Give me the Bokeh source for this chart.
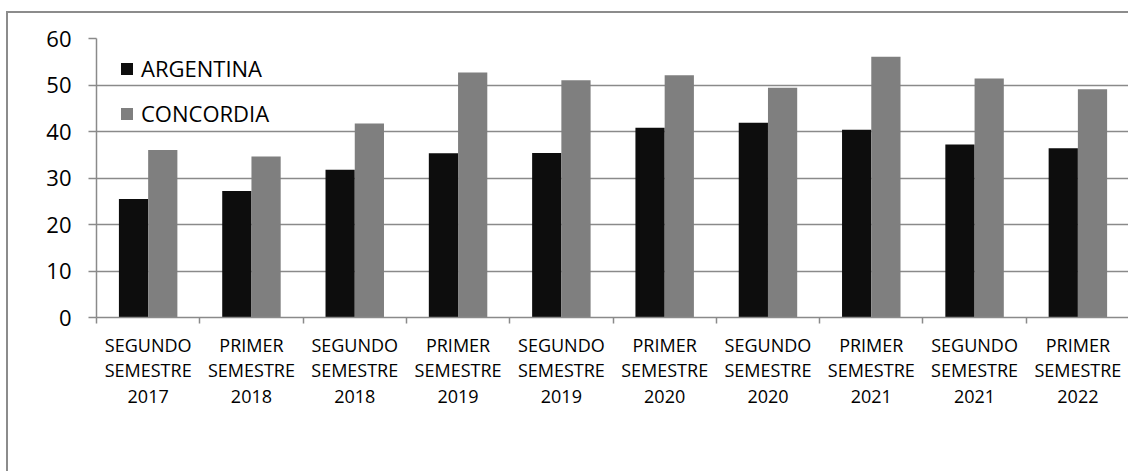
from bokeh.plotting import figure
from bokeh.models import (FixedTicker, Legend, LegendItem, Range1d, ColumnDataSource)
from bokeh.embed import file_html
from bokeh.resources import INLINE

# ---- data ----
categories = [
    "SEGUNDO\nSEMESTRE\n2017",
    "PRIMER\nSEMESTRE\n2018",
    "SEGUNDO\nSEMESTRE\n2018",
    "PRIMER\nSEMESTRE\n2019",
    "SEGUNDO\nSEMESTRE\n2019",
    "PRIMER\nSEMESTRE\n2020",
    "SEGUNDO\nSEMESTRE\n2020",
    "PRIMER\nSEMESTRE\n2021",
    "SEGUNDO\nSEMESTRE\n2021",
    "PRIMER\nSEMESTRE\n2022",
]
argentina = [25.5, 27.2, 31.8, 35.3, 35.4, 40.8, 41.9, 40.4, 37.2, 36.4]
concordia = [36.0, 34.6, 41.7, 52.7, 51.0, 52.1, 49.4, 56.1, 51.4, 49.1]
series_names = ["ARGENTINA", "CONCORDIA"]
y_ticks = [0, 10, 20, 30, 40, 50, 60]

# ---- style ----
FONT = "Open Sans"
BLACK = "#0d0d0d"
GRAY = "#7f7f7f"
LINE = "#8a8a8a"
BORDER = "#8c8c8c"
BAR_W = 0.283

idx = list(range(len(categories)))
src = ColumnDataSource(dict(
    x_arg=[i - BAR_W / 2 for i in idx],
    x_con=[i + BAR_W / 2 for i in idx],
    arg=argentina,
    con=concordia,
))

p = figure(width=1128, height=471,
           x_range=Range1d(-0.5, 9.49), y_range=Range1d(0, 60),
           output_backend="svg", toolbar_location=None,
           min_border_left=96, min_border_right=0,
           min_border_top=38, min_border_bottom=154)
p.outline_line_color = None
p.background_fill_color = "white"
p.border_fill_alpha = 0

# outer chart border (top and left edges visible), drawn behind the canvas
p.styles = {
    "background-color": "white",
    "background-image": f"linear-gradient({BORDER}, {BORDER}), linear-gradient({BORDER}, {BORDER})",
    "background-size": "2px 100%, 100% 2px",
    "background-position": "6px 11px, 6px 11px",
    "background-repeat": "no-repeat",
}

r1 = p.vbar(x="x_arg", top="arg", width=BAR_W, source=src,
            fill_color=BLACK, line_color=None)
r2 = p.vbar(x="x_con", top="con", width=BAR_W, source=src,
            fill_color=GRAY, line_color=None)

# grid
p.xgrid.grid_line_color = None
p.ygrid.ticker = FixedTicker(ticks=y_ticks)
p.ygrid.grid_line_color = LINE
p.ygrid.grid_line_width = 1.5

# y axis
p.yaxis.ticker = FixedTicker(ticks=y_ticks)
p.yaxis.axis_line_color = LINE
p.yaxis.axis_line_width = 1.5
p.yaxis.major_tick_line_color = LINE
p.yaxis.major_tick_line_width = 1.5
p.yaxis.major_tick_out = 8
p.yaxis.major_tick_in = 0
p.yaxis.minor_tick_line_color = None
p.yaxis.major_label_standoff = 17
p.yaxis.major_label_text_font = FONT
p.yaxis.major_label_text_font_size = "22px"
p.yaxis.major_label_text_color = "black"

# x axis: labels at centres, tick marks at category boundaries
p.xaxis.ticker = FixedTicker(ticks=idx, minor_ticks=[i - 0.5 for i in range(len(categories) + 1)])
p.xaxis.major_label_overrides = {i: c for i, c in zip(idx, categories)}
p.xaxis.axis_line_color = LINE
p.xaxis.axis_line_width = 1.5
p.xaxis.major_tick_line_color = None
p.xaxis.major_tick_out = 0
p.xaxis.major_tick_in = 0
p.xaxis.minor_tick_line_color = LINE
p.xaxis.minor_tick_line_width = 1.5
p.xaxis.minor_tick_out = 6
p.xaxis.minor_tick_in = 0
p.xaxis.major_label_standoff = 9
p.xaxis.major_label_text_font = FONT
p.xaxis.major_label_text_font_size = "18px"
p.xaxis.major_label_text_color = "black"
p.xaxis.major_label_text_line_height = 1.08

# legend
legend = Legend(items=[LegendItem(label=series_names[0], renderers=[r1]),
                       LegendItem(label=series_names[1], renderers=[r2])],
                location=(23, 189), orientation="vertical",
                glyph_width=15, glyph_height=15, label_standoff=7,
                label_text_font=FONT, label_text_font_size="22px",
                label_text_color="black", label_height=20,
                spacing=15, padding=0, margin=0,
                border_line_color=None, background_fill_alpha=0)
p.add_layout(legend)

open("out.html", "w").write(file_html(p, INLINE))
